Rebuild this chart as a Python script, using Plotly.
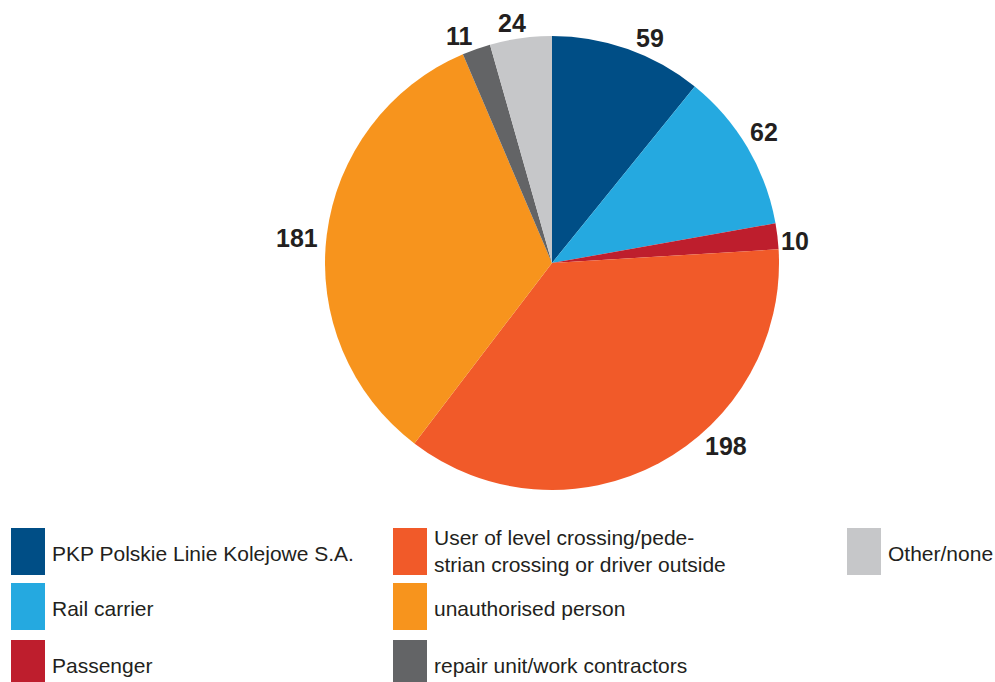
import math
import plotly.graph_objects as go

# Accident causes by responsible party
categories = [
    "PKP Polskie Linie Kolejowe S.A.",
    "Rail carrier",
    "Passenger",
    "User of level crossing/pede-<br>strian crossing or driver outside",
    "unauthorised person",
    "repair unit/work contractors",
    "Other/none",
]
values = [59, 62, 10, 198, 181, 11, 24]
colors = ["#004e86", "#25a9e0", "#be1e2d", "#f15a29", "#f7941d", "#636466", "#c6c7c9"]

# Value label placement around the rim: angular shift (deg) from slice middle and distance from centre (px)
label_shift = [4.1, -1.1, 1.5, -15.5, -1.6, -2.8, -1.6]
label_dist = [245, 249, 244, 252, 256, 245, 243]

W, H = 995, 682
cx, cy, r = 552, 263, 227
FONT = "Liberation Sans, Arial, sans-serif"

fig = go.Figure(
    go.Pie(
        labels=categories,
        values=values,
        sort=False,
        direction="clockwise",
        rotation=0,
        marker=dict(colors=colors, line=dict(width=0)),
        textinfo="none",
        hoverinfo="skip",
        showlegend=False,
        domain=dict(x=[(cx - r) / W, (cx + r) / W], y=[1 - (cy + r) / H, 1 - (cy - r) / H]),
    )
)

# Value labels outside the pie, positioned from each slice's middle angle
total = sum(values)
cum = 0.0
for v, shift, dist in zip(values, label_shift, label_dist):
    mid = (cum + v / 2) / total * 360.0 + shift
    cum += v
    a = math.radians(mid)
    px = cx + dist * math.sin(a)
    py = cy - dist * math.cos(a)
    fig.add_annotation(
        xref="paper", yref="paper", x=px / W, y=1 - py / H,
        xanchor="center", yanchor="middle", text=f"<b>{v}</b>", showarrow=False,
        font=dict(family=FONT, size=25, color="#231f20"),
    )

# Legend drawn as three columns of swatches with captions
legend_cols = [
    (11, 45, [0, 1, 2]),
    (393, 427, [3, 4, 5]),
    (847, 881, [6]),
]
rows = [(528, 575), (583, 630), (640, 687)]
for x0, x1, idxs in legend_cols:
    for row, i in enumerate(idxs):
        y0, y1 = rows[row]
        fig.add_shape(
            type="rect", xref="paper", yref="paper",
            x0=x0 / W, x1=x1 / W, y0=1 - y1 / H, y1=1 - y0 / H,
            fillcolor=colors[i], line=dict(width=0),
        )
        fig.add_annotation(
            xref="paper", yref="paper",
            x=(x1 + 5) / W, y=1 - ((y0 + y1) / 2 + (2 if "<br>" not in categories[i] else -1)) / H,
            xanchor="left", yanchor="middle", align="left",
            text=categories[i], showarrow=False,
            font=dict(family=FONT, size=21, color="#231f20"),
        )

fig.update_layout(
    width=W, height=H,
    margin=dict(l=0, r=0, t=0, b=0),
    paper_bgcolor="white", plot_bgcolor="white",
)

fig.write_html("out.html")
